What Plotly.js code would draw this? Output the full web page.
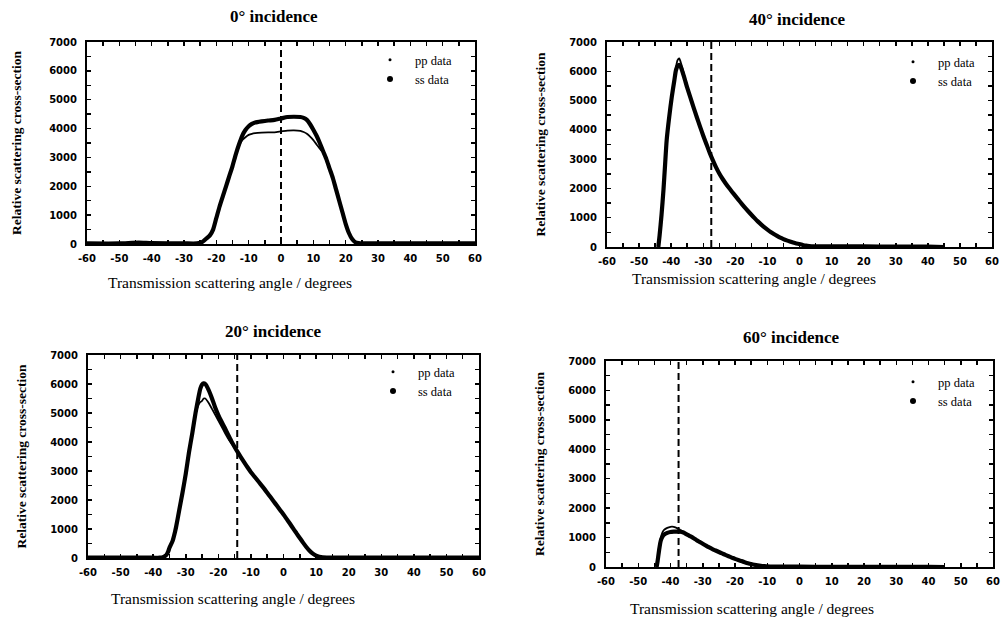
<!DOCTYPE html>
<html>
<head>
<meta charset="utf-8">
<script src="https://cdn.plot.ly/plotly-3.0.1.min.js"></script>
<style>html,body{margin:0;padding:0;background:#fff;}#chart{width:1004px;height:618px;}</style>
</head>
<body>
<div id="chart"></div>
<script>
// ---------- data ----------
const panelTitles = ['0° incidence', '40° incidence', '20° incidence', '60° incidence'];
const refractedAngles = [0, -27.5, -14.2, -37.5];
const xTickVals = [-60, -50, -40, -30, -20, -10, 0, 10, 20, 30, 40, 50, 60];
const xTickText = ['-60', '-50', '-40', '-30', '-20', '-10', '0', '10', '20', '30', '40', '50', '60'];
const seriesNames = ['pp data', 'ss data'];
const xAxisTitle = 'Transmission scattering angle / degrees';
const yAxisTitle = 'Relative scattering cross-section';

// 0° incidence
const inc0_ss_x = [-60,-50,-44,-40,-30,-26,-25,-24,-23,-22,-21,-20,-19,-18,-17,-16,-15,-14,-13,-12,-11,-10,-9,-8,-6,-4,-2,0,2,4,6,7,8,9,10,11,12,13,14,15,16,17,18,19,20,21,22,23,24,25,30,40,50,60];
const inc0_ss_y = [20,20,50,30,20,20,40,100,200,300,500,900,1300,1650,2000,2350,2700,3100,3450,3750,3950,4080,4160,4210,4250,4280,4300,4350,4400,4410,4400,4370,4300,4150,3960,3750,3500,3220,2950,2620,2300,1900,1500,1100,700,380,170,60,30,20,20,20,20,20];
const inc0_pp_x = [-60,-50,-44,-40,-30,-26,-25,-24,-23,-22,-21,-20,-19,-18,-17,-16,-15,-14,-13,-12,-11,-10,-9,-8,-6,-4,-2,0,2,4,6,7,8,9,10,11,12,13,14,15,16,17,18,19,20,21,22,23,24,25,30,40,50,60];
const inc0_pp_y = [20,20,50,30,20,20,40,100,200,300,500,900,1300,1650,2000,2350,2700,3100,3400,3600,3700,3780,3820,3840,3860,3870,3870,3900,3930,3940,3920,3880,3820,3720,3600,3450,3300,3180,2930,2620,2300,1900,1500,1100,700,380,170,60,30,20,20,20,20,20];

// 40° incidence
const inc40_ss_x = [-44,-43.6,-43,-42.4,-41.9,-41.4,-40.6,-39.8,-39,-38.5,-38,-37.5,-37,-36,-35,-34,-33,-32,-31,-30,-29,-28,-27,-26,-25,-24,-23,-22,-21,-20,-19,-18,-17,-16,-15,-14,-13,-12,-11,-10,-9,-8,-7,-6,-5,-4,-3,-2,-1,0,1,2,3,5,10,20,30,40,45];
const inc40_ss_y = [0,400,1100,1950,2800,3650,4450,5130,5700,6040,6180,6220,6150,5820,5440,5100,4760,4430,4110,3800,3510,3220,2960,2720,2510,2330,2170,2020,1880,1745,1610,1475,1345,1220,1100,985,875,775,680,595,515,445,380,320,270,225,185,150,120,100,70,45,30,20,20,20,15,10,0];
const inc40_pp_x = [-44,-43.6,-43,-42.4,-41.9,-41.4,-40.6,-39.8,-39,-38.5,-38,-37.5,-37,-36,-35,-34,-33,-32,-31,-30,-29,-28,-27,-26,-25,-24,-23,-22,-21,-20,-19,-18,-17,-16,-15,-14,-13,-12,-11,-10,-9,-8,-7,-6,-5,-4,-3,-2,-1,0,1,2,3,5,10,20,30,40,45];
const inc40_pp_y = [0,400,1100,1950,2800,3650,4450,5130,5750,6150,6380,6440,6300,5900,5440,5100,4760,4430,4110,3800,3510,3220,2960,2720,2510,2330,2170,2020,1880,1745,1610,1475,1345,1220,1100,985,875,775,680,595,515,445,380,320,270,225,185,150,120,100,70,45,30,20,20,20,15,10,0];

// 20° incidence
const inc20_ss_x = [-60,-45,-40,-38,-37,-36,-35.4,-35,-34,-33.3,-33,-32,-31,-30,-29,-28,-27,-26,-25.5,-25,-24.5,-24,-23,-22,-21,-20,-19,-18,-17,-16,-15,-14,-13,-12,-11,-10,-9,-8,-7,-6,-5,-4,-3,-2,-1,0,1,2,3,4,5,6,7,8,9,10,11,12,20,30,40,50,60];
const inc20_ss_y = [10,10,10,10,30,100,220,350,600,900,1050,1650,2250,2900,3650,4300,5000,5600,5850,5980,6020,6000,5800,5520,5200,4930,4700,4480,4250,4030,3830,3640,3460,3290,3120,2960,2820,2680,2540,2400,2250,2100,1950,1800,1650,1500,1340,1180,1010,850,690,530,380,250,150,80,40,20,10,10,10,10,10];
const inc20_pp_x = [-60,-45,-40,-38,-37,-36,-35.4,-35,-34,-33.3,-33,-32,-31,-30,-29,-28,-27,-26,-25.5,-25,-24.5,-24,-23,-22,-21,-20,-19,-18,-17,-16,-15,-14,-13,-12,-11,-10,-9,-8,-7,-6,-5,-4,-3,-2,-1,0,1,2,3,4,5,6,7,8,9,10,11,12,20,30,40,50,60];
const inc20_pp_y = [10,10,10,10,30,100,220,350,600,900,1050,1650,2250,2900,3650,4300,4950,5300,5380,5420,5500,5500,5350,5150,4950,4740,4530,4320,4120,3950,3800,3640,3460,3290,3120,2960,2820,2680,2540,2400,2250,2100,1950,1800,1650,1500,1340,1180,1010,850,690,530,380,250,150,80,40,20,10,10,10,10,10];

// 60° incidence
const inc60_ss_x = [-44.3,-44,-43.5,-43,-42.5,-42,-41,-40,-39,-38,-37,-36,-35,-34,-33,-32,-31,-30,-29,-28,-27,-26,-25,-24,-23,-22,-21,-20,-19,-18,-17,-16,-15,-14,-13,-12,-11,-10,-8,0,10,20,30,40,45];
const inc60_ss_y = [0,200,600,900,1030,1100,1160,1190,1200,1205,1200,1170,1110,1050,990,920,855,790,725,665,610,560,510,460,410,365,320,275,235,200,165,130,100,75,55,40,30,20,12,10,8,8,8,5,0];
const inc60_pp_x = [-44.3,-44,-43.5,-43,-42.5,-42,-41,-40,-39.5,-39,-38,-37,-36,-35,-34,-33,-32,-31,-30,-29,-28,-27,-26,-25,-24,-23,-22,-21,-20,-19,-18,-17,-16,-15,-14,-13,-12,-11,-10,-8,0,10,20,30,40,45];
const inc60_pp_y = [0,250,700,1000,1180,1260,1330,1365,1370,1360,1320,1260,1200,1120,1050,990,920,855,790,725,665,610,560,510,460,410,365,320,275,235,200,165,130,100,75,55,40,30,20,12,10,8,8,8,5,0];

// ---------- figure ----------
const W = 1004, H = 618;
const px = v => v / W;
const py = v => 1 - v / H;

const panels = [
  {ax: '', pp: [inc0_pp_x, inc0_pp_y], ss: [inc0_ss_x, inc0_ss_y], xd: [87, 475], yd: [42, 244],
   title: [274, 17], xt: [230, 283], leg: [365, 45], ys: 24},
  {ax: '2', pp: [inc40_pp_x, inc40_pp_y], ss: [inc40_ss_x, inc40_ss_y], xd: [607, 992], yd: [42, 247],
   title: [797, 20], xt: [754, 278], leg: [888, 47], ys: 20},
  {ax: '3', pp: [inc20_pp_x, inc20_pp_y], ss: [inc20_ss_x, inc20_ss_y], xd: [88, 479], yd: [355, 558],
   title: [273, 331], xt: [233, 598], leg: [368, 357], ys: 20},
  {ax: '4', pp: [inc60_pp_x, inc60_pp_y], ss: [inc60_ss_x, inc60_ss_y], xd: [606, 993], yd: [361, 567],
   title: [791, 337], xt: [752, 608], leg: [888, 367], ys: 20}
];

const traces = [];
const layout = {
  width: W, height: H,
  margin: {l: 0, r: 0, t: 0, b: 0},
  paper_bgcolor: '#ffffff', plot_bgcolor: '#ffffff',
  showlegend: true,
  annotations: [], shapes: []
};

const tickFont = {family: 'DejaVu Sans', size: 10, color: '#000', weight: 700};

panels.forEach((p, i) => {
  const xa = 'x' + p.ax, ya = 'y' + p.ax;
  const legName = 'legend' + p.ax;
  traces.push({x: p.ss[0], y: p.ss[1], xaxis: xa, yaxis: ya, mode: 'lines', name: seriesNames[1],
    line: {color: '#000', width: 4.2, shape: 'spline', smoothing: 0.6}, showlegend: false, legend: legName});
  traces.push({x: p.pp[0], y: p.pp[1], xaxis: xa, yaxis: ya, mode: 'lines', name: seriesNames[0],
    line: {color: '#000', width: 1.8, shape: 'spline', smoothing: 0.6}, showlegend: false, legend: legName});
  traces.push({x: [null], y: [null], xaxis: xa, yaxis: ya, mode: 'markers', name: seriesNames[0],
    marker: {color: '#000', size: 3}, legend: legName, showlegend: true});
  traces.push({x: [null], y: [null], xaxis: xa, yaxis: ya, mode: 'markers', name: seriesNames[1],
    marker: {color: '#000', size: 6}, legend: legName, showlegend: true});

  const axBase = {
    showgrid: false, zeroline: false, showline: true, linecolor: '#000', linewidth: 2,
    mirror: 'ticks', ticks: 'inside', ticklen: 4, tickwidth: 1.5, tickcolor: '#000',
    tickfont: tickFont, fixedrange: true
  };
  layout['xaxis' + p.ax] = Object.assign({}, axBase, {
    domain: [px(p.xd[0]), px(p.xd[1])], range: [-60, 60], anchor: ya,
    tickmode: 'array', tickvals: xTickVals, ticktext: xTickText, ticklabelstandoff: 4,
    minor: {dtick: 5, ticks: 'inside', ticklen: 4, tickwidth: 1.5, tickcolor: '#000'}
  });
  layout['yaxis' + p.ax] = Object.assign({}, axBase, {
    domain: [py(p.yd[1]), py(p.yd[0])], range: [0, 7000], anchor: xa,
    dtick: 1000, tick0: 0, ticklabelstandoff: 6,
    minor: {dtick: 500, ticks: 'inside', ticklen: 4, tickwidth: 1.5, tickcolor: '#000'},
    title: {text: yAxisTitle, standoff: p.ys, font: {family: 'Liberation Serif', size: 13.5, color: '#000', weight: 'bold'}}
  });
  layout[legName] = {
    x: px(p.leg[0]), y: py(p.leg[1]), xanchor: 'left', yanchor: 'top',
    bgcolor: 'rgba(0,0,0,0)', borderwidth: 0, tracegroupgap: 0, itemwidth: 40,
    font: {family: 'Liberation Serif', size: 12.5, color: '#000'}
  };
  layout.shapes.push({type: 'line', xref: xa, yref: ya + ' domain', x0: refractedAngles[i], x1: refractedAngles[i],
    y0: 0, y1: 1, line: {color: '#000', width: 2, dash: '7px,4px'}});
  layout.annotations.push({text: panelTitles[i], xref: 'paper', yref: 'paper', x: px(p.title[0]), y: py(p.title[1]),
    xanchor: 'center', yanchor: 'middle', showarrow: false,
    font: {family: 'Liberation Serif', size: 17, color: '#000', weight: 'bold'}});
  layout.annotations.push({text: xAxisTitle, xref: 'paper', yref: 'paper', x: px(p.xt[0]), y: py(p.xt[1]),
    xanchor: 'center', yanchor: 'middle', showarrow: false,
    font: {family: 'Liberation Serif', size: 15.5, color: '#000'}});
});

Plotly.newPlot('chart', traces, layout, {staticPlot: true, displayModeBar: false});
</script>
</body>
</html>
